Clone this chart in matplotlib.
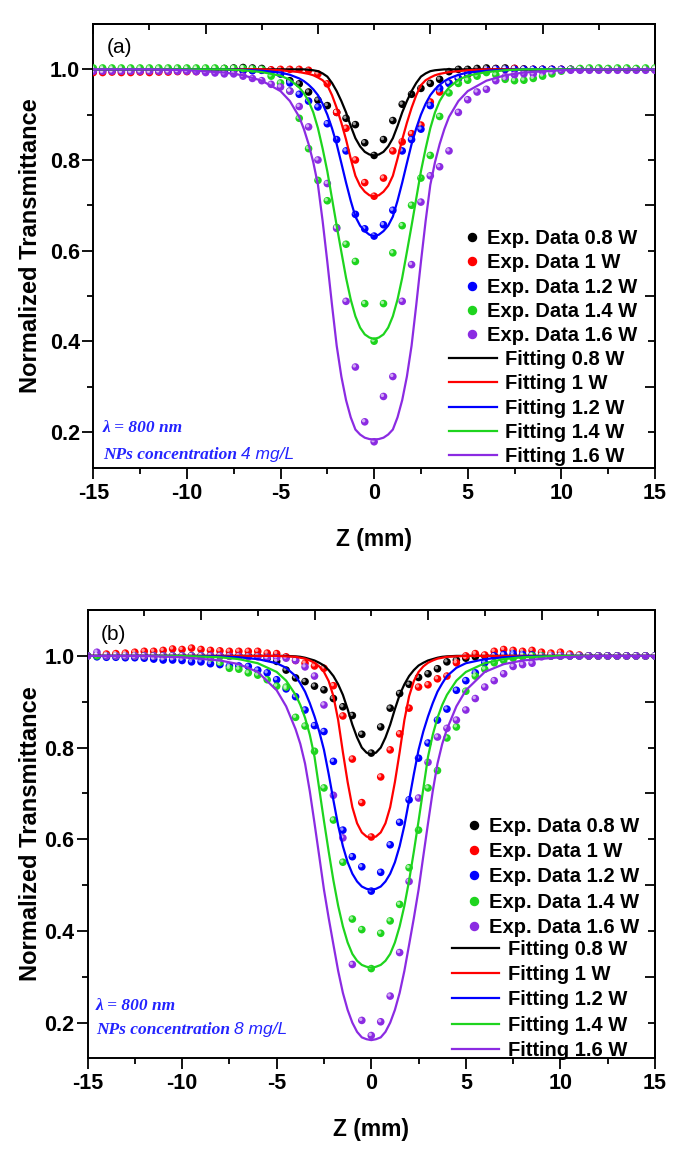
import matplotlib
matplotlib.use('Agg')
import matplotlib.pyplot as plt
import matplotlib.transforms as mtransforms
from matplotlib.lines import Line2D
from matplotlib.ticker import MultipleLocator, FixedLocator

plt.rcParams['font.family'] = ['Liberation Sans', 'DejaVu Sans']
plt.rcParams['font.weight'] = 'bold'
plt.rcParams['axes.unicode_minus'] = False

# z positions of the measured points (mm)
Z = [-15.0, -14.5, -14.0, -13.5, -13.0, -12.5, -12.0, -11.5, -11.0, -10.5, -10.0, -9.5, -9.0,
     -8.5, -8.0, -7.5, -7.0, -6.5, -6.0, -5.5, -5.0,
     -4.5, -4.0, -3.5, -3.0, -2.5, -2.0, -1.5, -1.0, -0.5,
     0.0,
     0.5, 1.0, 1.5, 2.0, 2.5, 3.0, 3.5, 4.0, 4.5,
     5.0, 5.5, 6.0, 6.5, 7.0, 7.5, 8.0,
     8.5, 9.0, 9.5, 10.0, 10.5, 11.0, 11.5, 12.0, 12.5, 13.0, 13.5, 14.0, 14.5, 15.0]

# z positions where the fitted curves were read
FIT_Z = [-15, -12, -10, -8, -7, -6, -5, -4.5,
         -4, -3.75, -3.5, -3.25, -3, -2.75, -2.5, -2.25, -2, -1.75, -1.5, -1.25, -1, -0.75, -0.5, -0.25,
         0,
         0.25, 0.5, 0.75, 1, 1.25, 1.5, 1.75, 2, 2.25, 2.5, 2.75, 3, 3.25, 3.5, 3.75, 4,
         4.5, 5, 6, 7, 8, 10, 12, 15]

POWERS = ['0.8 W', '1 W', '1.2 W', '1.4 W', '1.6 W']
COLORS = ['#000000', '#FF0000', '#0000FF', '#1ED41E', '#8B2BE2']

# ---- panel (a): 4 mg/L ----
A_EXP_08 = [1.000, 1.000, 1.000, 1.000, 1.000, 1.000, 1.000, 1.000, 1.000, 1.000, 1.000, 1.000, 1.000,
            1.001, 1.002, 1.003, 1.004, 1.003, 1.002, 0.998, 0.990,
            0.975, 0.968, 0.950, 0.932, 0.920, 0.905, 0.892, 0.878, 0.838,
            0.810,
            0.845, 0.887, 0.923, 0.945, 0.958, 0.969, 0.978, 0.995, 1.000,
            1.000, 1.002, 1.003, 1.002, 1.003, 1.002, 1.001,
            1.000, 1.000, 1.000, 1.000, 1.000, 1.000, 1.000, 1.000, 1.000, 1.000, 1.000, 1.000, 1.000, 1.000]
A_EXP_1 = [0.993, 0.993, 0.994, 0.993, 0.993, 0.994, 0.993, 0.994, 0.994, 0.995, 0.995, 0.995, 0.996,
           0.996, 0.996, 0.997, 0.997, 0.998, 0.998, 0.999, 1.000,
           1.000, 1.000, 0.998, 0.990, 0.968, 0.905, 0.870, 0.800, 0.750,
           0.720,
           0.760, 0.820, 0.840, 0.858, 0.877, 0.928, 0.950, 0.970, 0.980,
           0.988, 0.995, 0.998, 1.000, 1.000, 1.002, 1.000,
           1.000, 1.000, 1.000, 1.000, 1.000, 1.000, 1.000, 1.000, 1.000, 1.000, 1.000, 1.000, 1.000, 1.000]
A_EXP_12 = [0.998, 0.998, 0.998, 0.998, 0.998, 0.998, 0.998, 0.998, 0.998, 0.998, 0.998, 0.998, 0.998,
            0.998, 0.998, 0.998, 0.997, 0.997, 0.998, 0.995, 0.990,
            0.970, 0.945, 0.930, 0.917, 0.880, 0.845, 0.820, 0.680, 0.648,
            0.632,
            0.657, 0.689, 0.820, 0.845, 0.868, 0.920, 0.958, 0.969, 0.980,
            0.990, 0.995, 0.998, 1.000, 1.000, 1.000, 1.000,
            1.000, 1.000, 1.000, 1.000, 1.000, 1.000, 1.000, 1.000, 1.000, 1.000, 1.000, 1.000, 1.000, 1.000]
A_EXP_14 = [1.003, 1.003, 1.003, 1.003, 1.003, 1.003, 1.003, 1.003, 1.003, 1.003, 1.003, 1.003, 1.003,
            1.003, 1.002, 1.002, 1.002, 1.001, 1.000, 0.985, 0.970,
            0.952, 0.892, 0.825, 0.755, 0.710, 0.651, 0.614, 0.576, 0.483,
            0.400,
            0.483, 0.595, 0.655, 0.700, 0.760, 0.810, 0.896, 0.948, 0.969,
            0.976, 0.985, 0.993, 0.988, 0.978, 0.975, 0.976,
            0.980, 0.985, 0.990, 0.996, 1.000, 1.002, 1.003, 1.003, 1.002, 1.003, 1.003, 1.002, 1.003, 1.003]
A_EXP_16 = [0.996, 0.996, 0.996, 0.996, 0.996, 0.996, 0.996, 0.996, 0.996, 0.996, 0.996, 0.995, 0.993,
            0.992, 0.990, 0.990, 0.985, 0.980, 0.975, 0.967, 0.961,
            0.952, 0.918, 0.873, 0.800, 0.748, 0.649, 0.488, 0.343, 0.222,
            0.178,
            0.278, 0.322, 0.488, 0.569, 0.707, 0.765, 0.785, 0.820, 0.905,
            0.933, 0.950, 0.956, 0.975, 0.984, 0.988, 0.990,
            0.990, 0.995, 0.997, 0.998, 0.998, 0.998, 0.998, 0.998, 0.998, 0.998, 0.998, 0.998, 0.998, 0.998]

A_FIT_08 = [1.000, 1.000, 1.000, 1.000, 1.000, 1.000, 1.000, 1.000,
            1.000, 1.000, 0.999, 0.998, 0.996, 0.991, 0.984, 0.970, 0.952, 0.930, 0.905, 0.875, 0.848, 0.830, 0.818, 0.812,
            0.810,
            0.812, 0.818, 0.830, 0.848, 0.875, 0.905, 0.930, 0.952, 0.970, 0.984, 0.991, 0.996, 0.998, 0.999, 1.000, 1.000,
            1.000, 1.000, 1.000, 1.000, 1.000, 1.000, 1.000, 1.000]
A_FIT_1 = [1.000, 1.000, 1.000, 1.000, 1.000, 1.000, 0.998, 0.996,
           0.994, 0.992, 0.990, 0.987, 0.982, 0.976, 0.965, 0.943, 0.915, 0.882, 0.845, 0.803, 0.765, 0.743, 0.730, 0.722,
           0.720,
           0.722, 0.730, 0.743, 0.765, 0.803, 0.845, 0.882, 0.915, 0.943, 0.965, 0.976, 0.982, 0.987, 0.990, 0.992, 0.994,
           0.996, 0.998, 1.000, 1.000, 1.000, 1.000, 1.000, 1.000]
A_FIT_12 = [1.000, 1.000, 1.000, 1.000, 0.999, 0.997, 0.993, 0.988,
            0.980, 0.974, 0.966, 0.956, 0.943, 0.924, 0.900, 0.870, 0.835, 0.793, 0.750, 0.710, 0.675, 0.655, 0.643, 0.635,
            0.632,
            0.635, 0.643, 0.655, 0.675, 0.710, 0.750, 0.793, 0.835, 0.870, 0.900, 0.924, 0.943, 0.956, 0.966, 0.974, 0.980,
            0.988, 0.993, 0.997, 0.999, 1.000, 1.000, 1.000, 1.000]
A_FIT_14 = [1.000, 1.000, 1.000, 1.000, 0.998, 0.994, 0.986, 0.977,
            0.960, 0.947, 0.930, 0.905, 0.870, 0.825, 0.775, 0.715, 0.655, 0.597, 0.540, 0.492, 0.455, 0.430, 0.415, 0.408,
            0.405,
            0.408, 0.415, 0.430, 0.455, 0.492, 0.540, 0.597, 0.655, 0.715, 0.775, 0.825, 0.870, 0.905, 0.930, 0.947, 0.960,
            0.977, 0.986, 0.994, 0.998, 1.000, 1.000, 1.000, 1.000]
A_FIT_16 = [1.000, 1.000, 0.998, 0.993, 0.987, 0.975, 0.952, 0.930,
            0.895, 0.868, 0.835, 0.795, 0.745, 0.665, 0.575, 0.480, 0.390, 0.322, 0.270, 0.232, 0.205, 0.194, 0.187, 0.184,
            0.183,
            0.184, 0.187, 0.194, 0.205, 0.232, 0.270, 0.322, 0.390, 0.480, 0.575, 0.665, 0.745, 0.795, 0.835, 0.868, 0.895,
            0.930, 0.952, 0.975, 0.987, 0.993, 0.998, 1.000, 1.000]

# ---- panel (b): 8 mg/L ----
B_EXP_08 = [1.000, 1.000, 1.000, 1.000, 1.000, 1.000, 1.000, 1.000, 1.000, 1.000, 1.000, 1.000, 1.000,
            1.000, 1.000, 1.000, 1.000, 1.000, 1.000, 0.995, 0.988,
            0.969, 0.952, 0.944, 0.934, 0.926, 0.907, 0.889, 0.870, 0.829,
            0.788,
            0.845, 0.886, 0.918, 0.938, 0.953, 0.961, 0.972, 0.987, 0.991,
            0.995, 0.998, 1.000, 1.000, 1.000, 1.000, 1.000,
            1.000, 1.000, 1.000, 1.000, 1.000, 1.000, 1.000, 1.000, 1.000, 1.000, 1.000, 1.000, 1.000, 1.000]
B_EXP_1 = [1.000, 1.002, 1.004, 1.005, 1.006, 1.008, 1.010, 1.010, 1.012, 1.015, 1.014, 1.017, 1.014,
           1.012, 1.011, 1.010, 1.010, 1.010, 1.010, 1.006, 1.005,
           0.998, 0.990, 0.984, 0.978, 0.973, 0.935, 0.869, 0.775, 0.680,
           0.605,
           0.736, 0.795, 0.830, 0.886, 0.932, 0.937, 0.950, 0.956, 0.985,
           1.000, 1.005, 1.002, 1.010, 1.014, 1.012, 1.010,
           1.012, 1.008, 1.006, 1.008, 1.004, 1.002, 1.000, 1.000, 1.000, 1.000, 1.000, 1.000, 1.000, 1.000]
B_EXP_12 = [1.000, 0.998, 0.997, 0.997, 0.996, 0.996, 0.995, 0.993, 0.991, 0.991, 0.990, 0.987, 0.987,
            0.983, 0.981, 0.978, 0.978, 0.977, 0.969, 0.963, 0.948,
            0.928, 0.911, 0.882, 0.848, 0.835, 0.770, 0.620, 0.562, 0.540,
            0.487,
            0.528, 0.588, 0.637, 0.686, 0.777, 0.810, 0.860, 0.884, 0.925,
            0.946, 0.963, 0.985, 1.000, 1.003, 1.005, 1.003,
            1.002, 1.000, 1.000, 1.000, 1.000, 1.000, 1.000, 1.000, 1.000, 1.000, 1.000, 1.000, 1.000, 1.000]
B_EXP_14 = [1.000, 1.000, 1.000, 1.000, 1.000, 1.000, 1.000, 1.000, 1.000, 1.000, 1.000, 1.000, 1.000,
            0.995, 0.986, 0.973, 0.971, 0.963, 0.958, 0.948, 0.934,
            0.932, 0.866, 0.847, 0.792, 0.712, 0.642, 0.550, 0.426, 0.403,
            0.318,
            0.395, 0.422, 0.458, 0.538, 0.620, 0.712, 0.750, 0.821, 0.845,
            0.923, 0.956, 0.971, 0.985, 0.990, 0.995, 0.998,
            1.000, 1.000, 1.000, 1.000, 1.000, 1.000, 1.000, 1.000, 1.000, 1.000, 1.000, 1.000, 1.000, 1.000]
B_EXP_16 = [1.000, 1.008, 1.000, 1.000, 1.000, 1.000, 1.000, 1.000, 1.000, 1.000, 1.000, 1.000, 1.000,
            1.000, 1.000, 0.999, 0.999, 0.998, 0.998, 0.997, 0.996,
            0.995, 0.990, 0.976, 0.956, 0.893, 0.696, 0.603, 0.327, 0.205,
            0.172,
            0.202, 0.258, 0.353, 0.508, 0.690, 0.768, 0.823, 0.842, 0.860,
            0.882, 0.907, 0.932, 0.946, 0.961, 0.977, 0.981,
            0.984, 0.998, 1.000, 1.000, 1.000, 1.000, 1.000, 1.000, 1.000, 1.000, 1.000, 1.000, 1.000, 1.000]

B_FIT_08 = [1.000, 1.000, 1.000, 1.000, 1.000, 1.000, 1.000, 1.000,
            0.999, 0.998, 0.996, 0.993, 0.990, 0.985, 0.979, 0.969, 0.956, 0.938, 0.915, 0.884, 0.850, 0.822, 0.800, 0.789,
            0.785,
            0.789, 0.800, 0.822, 0.850, 0.884, 0.915, 0.938, 0.956, 0.969, 0.979, 0.985, 0.990, 0.993, 0.996, 0.998, 0.999,
            1.000, 1.000, 1.000, 1.000, 1.000, 1.000, 1.000, 1.000]
B_FIT_1 = [1.000, 1.000, 1.000, 1.000, 1.000, 1.000, 1.000, 0.999,
           0.998, 0.996, 0.994, 0.990, 0.985, 0.977, 0.965, 0.945, 0.912, 0.860, 0.790, 0.725, 0.670, 0.635, 0.615, 0.606,
           0.603,
           0.606, 0.615, 0.635, 0.670, 0.725, 0.790, 0.860, 0.912, 0.945, 0.965, 0.977, 0.985, 0.990, 0.994, 0.996, 0.998,
           0.999, 1.000, 1.000, 1.000, 1.000, 1.000, 1.000, 1.000]
B_FIT_12 = [1.000, 1.000, 1.000, 0.999, 0.997, 0.993, 0.984, 0.974,
            0.956, 0.940, 0.922, 0.897, 0.868, 0.835, 0.795, 0.742, 0.685, 0.630, 0.585, 0.550, 0.525, 0.508, 0.497, 0.492,
            0.490,
            0.492, 0.497, 0.508, 0.525, 0.550, 0.585, 0.630, 0.685, 0.742, 0.795, 0.835, 0.868, 0.897, 0.922, 0.940, 0.956,
            0.974, 0.984, 0.993, 0.997, 0.999, 1.000, 1.000, 1.000]
B_FIT_14 = [1.000, 1.000, 1.000, 0.997, 0.993, 0.984, 0.965, 0.946,
            0.915, 0.893, 0.865, 0.828, 0.780, 0.710, 0.640, 0.573, 0.510, 0.455, 0.410, 0.375, 0.350, 0.335, 0.326, 0.322,
            0.320,
            0.322, 0.326, 0.335, 0.350, 0.375, 0.410, 0.455, 0.510, 0.573, 0.640, 0.710, 0.780, 0.828, 0.865, 0.893, 0.915,
            0.946, 0.965, 0.984, 0.993, 0.997, 1.000, 1.000, 1.000]
B_FIT_16 = [1.000, 1.000, 0.997, 0.990, 0.982, 0.965, 0.925, 0.890,
            0.840, 0.808, 0.765, 0.705, 0.635, 0.563, 0.490, 0.428, 0.370, 0.313, 0.265, 0.228, 0.200, 0.180, 0.168, 0.164,
            0.162,
            0.164, 0.168, 0.180, 0.200, 0.228, 0.265, 0.313, 0.370, 0.428, 0.490, 0.563, 0.635, 0.705, 0.765, 0.808, 0.840,
            0.890, 0.925, 0.965, 0.982, 0.990, 0.997, 1.000, 1.000]

TEXT_BLUE = '#2424FF'
SERIF = ['Liberation Serif', 'DejaVu Serif']


def ball_scatter(ax, y, color):
    # shaded "ball" symbol: coloured disc with a small light spot
    ax.scatter(Z, y, s=30, color=color, edgecolors='none', zorder=3)
    hl = mtransforms.offset_copy(ax.transData, fig=ax.figure, x=-1.1, y=1.1, units='dots')
    ax.scatter(Z, y, s=6, color='white', alpha=0.6, edgecolors='none', zorder=3.1, transform=hl)


def draw_panel(ax, exp, fits, tag, conc, lay):
    for y, c in zip(exp, COLORS):
        ball_scatter(ax, y, c)
    for y, c in zip(fits, COLORS):
        ax.plot(FIT_Z, y, color=c, lw=1.6, zorder=4)

    ax.set_xlim(-15, 15)
    ax.set_ylim(lay['ylim'])
    ax.xaxis.set_major_locator(MultipleLocator(5))
    ax.xaxis.set_minor_locator(MultipleLocator(2.5))
    ax.yaxis.set_major_locator(FixedLocator([0.2, 0.4, 0.6, 0.8, 1.0]))
    ax.yaxis.set_minor_locator(FixedLocator([0.3, 0.5, 0.7, 0.9]))
    ax.tick_params(which='major', direction='out', length=8, width=1.3, labelsize=15.5, pad=3)
    ax.tick_params(which='minor', direction='out', length=4.5, width=1.3)
    ax.tick_params(axis='y', pad=1.5)
    for s in ax.spines.values():
        s.set_linewidth(1.4)

    # inner ticks on top and right, as in the original frame
    top = ax.secondary_xaxis('top')
    top.xaxis.set_major_locator(FixedLocator([-15, -9, -3, 3, 9, 15]))
    top.xaxis.set_minor_locator(FixedLocator([-12, -6, 0, 6, 12]))
    top.tick_params(which='major', direction='in', length=7, width=1.3, labeltop=False)
    top.tick_params(which='minor', direction='in', length=4.5, width=1.3)
    right = ax.secondary_yaxis('right')
    right.yaxis.set_major_locator(FixedLocator([0.3, 0.5, 0.7, 0.9]))
    right.yaxis.set_minor_locator(FixedLocator([0.2, 0.4, 0.6, 0.8, 1.0]))
    right.tick_params(which='major', direction='in', length=7, width=1.3, labelright=False)
    right.tick_params(which='minor', direction='in', length=5, width=1.3)
    for sec in (top, right):
        for s in sec.spines.values():
            s.set_linewidth(1.4)

    ax.set_xlabel('Z (mm)', fontsize=16.5, fontweight='bold')
    ax.set_ylabel('Normalized Transmittance', fontsize=17, fontweight='bold')
    ax.xaxis.set_label_coords(0.5, lay['xlab_y'])
    ax.yaxis.set_label_coords(lay['ylab_x'], 0.5)

    ax.text(lay['tag_xy'][0], lay['tag_xy'][1], tag, transform=ax.transAxes,
            ha='center', va='center', fontsize=15, fontweight='normal')

    ax.text(lay['txt_x'], lay['lam_y'], 'λ = 800 nm', transform=ax.transAxes, color=TEXT_BLUE,
            fontsize=12.5, fontweight='bold', fontstyle='italic', family=SERIF, va='baseline')
    t = ax.text(lay['txt_x'], lay['nps_y'], 'NPs concentration ', transform=ax.transAxes, color=TEXT_BLUE,
                fontsize=12.5, fontweight='bold', fontstyle='italic', family=SERIF, va='baseline')
    ax.figure.canvas.draw()
    bb = t.get_window_extent()
    x1 = ax.transAxes.inverted().transform((bb.x1, bb.y0))[0]
    ax.text(x1, lay['nps_y'], conc, transform=ax.transAxes, color=TEXT_BLUE,
            fontsize=12.5, fontweight='normal', fontstyle='italic', va='baseline')

    exp_handles = [Line2D([], [], ls='none', marker='o', ms=5.8, mfc=c, mec=c) for c in COLORS]
    leg1 = ax.legend(exp_handles, ['Exp. Data ' + p for p in POWERS], loc='upper left',
                     bbox_to_anchor=lay['leg_exp'], frameon=False, borderpad=0, borderaxespad=0,
                     handlelength=1.0, handletextpad=0.25, labelspacing=lay['lsp'],
                     prop={'weight': 'bold', 'size': 14.5})
    ax.add_artist(leg1)
    fit_handles = [Line2D([], [], color=c, lw=1.6) for c in COLORS]
    ax.legend(fit_handles, ['Fitting ' + p for p in POWERS], loc='upper left',
              bbox_to_anchor=lay['leg_fit'], frameon=False, borderpad=0, borderaxespad=0,
              handlelength=2.37, handletextpad=0.42, labelspacing=lay['lsp'],
              prop={'weight': 'bold', 'size': 14.5})


fig = plt.figure(figsize=(6.89, 11.62), dpi=100)
ax_a = fig.add_axes([0.1354, 0.5972, 0.8152, 0.3821])
ax_b = fig.add_axes([0.1270, 0.0895, 0.8237, 0.3855])

lay_a = dict(ylim=(0.12, 1.10), xlab_y=-0.135, ylab_x=-0.092, tag_xy=(0.047, 0.948),
             txt_x=0.017, lam_y=0.082, nps_y=0.02,
             leg_exp=(0.656, 0.539), leg_fit=(0.633, 0.2665), lsp=0.27)
lay_b = dict(ylim=(0.123, 1.10), xlab_y=-0.135, ylab_x=-0.080, tag_xy=(0.046, 0.946),
             txt_x=0.015, lam_y=0.107, nps_y=0.054,
             leg_exp=(0.6627, 0.538), leg_fit=(0.6418, 0.2635), lsp=0.31)

draw_panel(ax_a, [A_EXP_08, A_EXP_1, A_EXP_12, A_EXP_14, A_EXP_16],
           [A_FIT_08, A_FIT_1, A_FIT_12, A_FIT_14, A_FIT_16], '(a)', '4 mg/L', lay_a)
draw_panel(ax_b, [B_EXP_08, B_EXP_1, B_EXP_12, B_EXP_14, B_EXP_16],
           [B_FIT_08, B_FIT_1, B_FIT_12, B_FIT_14, B_FIT_16], '(b)', '8 mg/L', lay_b)

fig.savefig('out.png', dpi=100)
